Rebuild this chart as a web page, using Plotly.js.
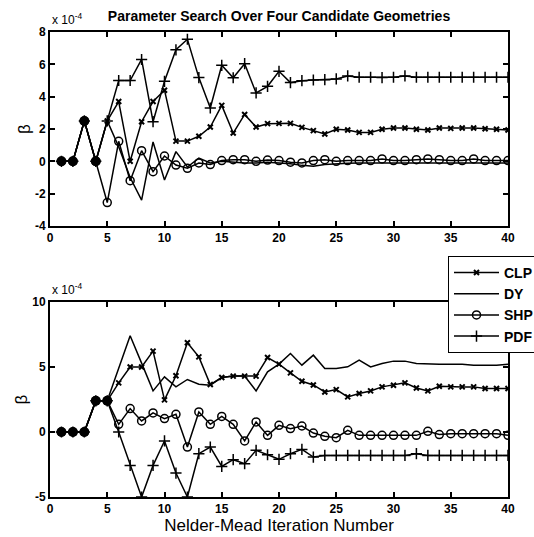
<!DOCTYPE html>
<html>
<head>
<meta charset="utf-8">
<script src="https://cdn.plot.ly/plotly-3.0.1.min.js"></script>
<style>html,body{margin:0;padding:0;background:#fff;}#chart{width:534px;height:537px;}</style>
</head>
<body>
<div id="chart"></div>
<script>
// Iterations
const iterations = Array.from({length: 40}, (_, i) => i + 1);
const seriesNames = ['CLP', 'DY', 'SHP', 'PDF'];

// Top panel values (x 1e-4)
const topCLP = [0, 0, 2.5, 0, 2.5, 3.7, 0.0, 2.45, 3.7, 4.4, 1.25, 1.25, 1.55, 2.12, 3.46, 1.75, 2.9, 2.12, 2.33, 2.35,
  2.35, 2.1, 1.9, 1.69, 1.98, 1.94, 1.79, 1.79, 1.98, 2.06, 2.06, 1.98, 1.94, 2.06, 2.04, 2.06, 2.06, 2.02, 1.98, 1.94];
const topDY = [0, 0, 2.5, 0, 2.5, 0.9, -1.0, -2.4, 1.2, -1.16, 0.6, -0.35, 0.2, -0.1, 0.0, -0.05, -0.1, -0.1, -0.05, -0.1,
  -0.15, -0.25, -0.3, -0.2, -0.15, -0.12, -0.1, -0.1, -0.08, -0.1, -0.1, -0.1, -0.1, -0.1, -0.1, -0.12, -0.1, -0.1, -0.1, -0.1];
const topSHP = [0, 0, 2.5, 0, -2.55, 1.24, -1.2, 0.66, -0.64, 0.33, -0.23, -0.43, -0.1, -0.2, 0.05, 0.1, 0.1, 0.0, 0.08, 0.05,
  -0.05, -0.1, 0.05, 0.1, 0.0, 0.05, 0.05, 0.05, 0.15, 0.05, 0.05, 0.1, 0.15, 0.1, 0.05, 0.05, 0.15, 0.05, 0.05, 0.05];
const topPDF = [0, 0, 2.5, 0, 2.5, 5.0, 5.0, 6.3, 2.45, 4.95, 6.9, 7.55, 5.18, 3.3, 5.94, 5.17, 6.04, 4.23, 4.64, 5.57,
  4.87, 4.99, 5.03, 5.05, 5.1, 5.28, 5.2, 5.2, 5.18, 5.2, 5.28, 5.2, 5.2, 5.2, 5.2, 5.2, 5.2, 5.2, 5.2, 5.2];

// Bottom panel values (x 1e-4)
const botCLP = [0, 0, 0, 2.4, 2.4, 3.78, 5.0, 5.0, 6.22, 2.47, 4.32, 6.86, 5.78, 3.65, 4.19, 4.3, 4.3, 4.3, 5.73, 5.22,
  4.55, 3.9, 3.62, 3.08, 3.26, 2.7, 2.96, 3.16, 3.47, 3.6, 3.78, 3.39, 3.16, 3.52, 3.47, 3.47, 3.47, 3.34, 3.34, 3.34];
const botDY = [0, 0, 0, 2.4, 2.4, 4.9, 7.4, 5.3, 3.16, 4.24, 3.47, 4.04, 3.68, 3.6, 4.2, 4.3, 4.3, 3.16, 4.63, 5.22,
  6.04, 5.14, 5.91, 4.88, 4.88, 5.01, 5.53, 5.01, 5.27, 5.45, 5.45, 5.27, 5.22, 5.22, 5.22, 5.22, 5.14, 5.14, 5.14, 5.22];
const botSHP = [0, 0, 0, 2.4, 2.4, 0.59, 1.8, 0.85, 1.47, 1.03, 1.36, -1.16, 1.54, 0.59, 1.2, 0.59, -0.69, 0.77, -0.26, 0.51,
  0.26, 0.46, -0.08, -0.33, -0.44, 0.13, -0.26, -0.26, -0.26, -0.26, -0.26, -0.26, 0.05, -0.2, -0.13, -0.13, -0.13, -0.13, -0.13, -0.26];
const botPDF = [0, 0, 0, 2.4, 2.4, 0, -2.57, -5, -2.57, -0.69, -3.16, -5, -1.67, -1.16, -2.65, -2.13, -2.44, -1.41, -1.75, -2.1,
  -1.67, -1.34, -1.93, -1.8, -1.8, -1.8, -1.8, -1.8, -1.8, -1.8, -1.8, -1.67, -1.8, -1.8, -1.8, -1.8, -1.8, -1.8, -1.8, -1.8];

const topTicks = [-4, -2, 0, 2, 4, 6, 8];
const botTicks = [-5, 0, 5, 10];
const xTicks = [0, 5, 10, 15, 20, 25, 30, 35, 40];

const SCALE = 1e-4;
const scaled = a => a.map(v => v * SCALE);
const FONT = 'Liberation Sans, Arial, sans-serif';

const styles = {
  CLP: {symbol: 'x-thin-open', size: 5, lw: 2},
  DY: null,
  SHP: {symbol: 'circle-open', size: 8, lw: 1.5},
  PDF: {symbol: 'cross-thin-open', size: 8, lw: 1.5}
};

function makeTraces(data, xa, ya, showLegend) {
  const out = seriesNames.map(name => {
    const st = styles[name];
    const t = {
      x: iterations, y: scaled(data[name]), xaxis: xa, yaxis: ya, name: name,
      type: 'scatter', showlegend: showLegend, legendgroup: name,
      line: {color: '#000', width: 1.5}
    };
    if (st) {
      t.mode = 'lines+markers';
      t.marker = {symbol: st.symbol, size: st.size, color: '#000', line: {color: '#000', width: st.lw}};
    } else {
      t.mode = 'lines';
    }
    return t;
  });
  // points where all four series coincide appear as solid dots
  const cx = [], cy = [];
  iterations.forEach((it, i) => {
    const v = data.CLP[i];
    if (v === data.DY[i] && v === data.SHP[i] && v === data.PDF[i]) { cx.push(it); cy.push(v * SCALE); }
  });
  out.push({x: cx, y: cy, xaxis: xa, yaxis: ya, type: 'scatter', mode: 'markers', showlegend: false,
    hoverinfo: 'skip', marker: {symbol: 'circle', size: 10, color: '#000'}});
  return out;
}

const traces = [
  ...makeTraces({CLP: topCLP, DY: topDY, SHP: topSHP, PDF: topPDF}, 'x', 'y', false),
  ...makeTraces({CLP: botCLP, DY: botDY, SHP: botSHP, PDF: botPDF}, 'x2', 'y2', true)
];

const tickFont = {family: FONT, size: 12, color: '#000', weight: 'bold'};
const axisCommon = {
  showgrid: false, zeroline: false, showline: true, linecolor: '#000', linewidth: 2,
  mirror: 'ticks', ticks: 'inside', ticklen: 5, tickwidth: 2, tickcolor: '#000', tickfont: tickFont
};
const betaTitle = {text: 'β', font: {size: 17, family: FONT, color: '#000'}, standoff: 0};

const layout = {
  width: 534, height: 537,
  margin: {l: 50, r: 26, t: 32, b: 40, autoexpand: false},
  paper_bgcolor: '#fff', plot_bgcolor: '#fff',
  font: {family: FONT, color: '#000'},
  title: {
    text: '<b>Parameter Search Over Four Candidate Geometries</b>',
    font: {size: 14, family: FONT, color: '#000'},
    x: 0.5, xref: 'paper', y: 1 - 16 / 537, yref: 'container', yanchor: 'middle'
  },
  xaxis: Object.assign({}, axisCommon, {domain: [0, 1], range: [0, 40], tickvals: xTicks, ticktext: xTicks.map(String), anchor: 'y'}),
  yaxis: Object.assign({}, axisCommon, {domain: [0.5828, 1], range: [-4 * SCALE, 8 * SCALE], tickvals: scaled(topTicks), ticktext: topTicks.map(String), anchor: 'x',
    title: betaTitle}),
  xaxis2: Object.assign({}, axisCommon, {domain: [0, 1], range: [0, 40], tickvals: xTicks, ticktext: xTicks.map(String), anchor: 'y2',
    title: {text: 'Nelder-Mead Iteration Number', font: {size: 17, family: FONT, color: '#000'}, standoff: 2}}),
  yaxis2: Object.assign({}, axisCommon, {domain: [0, 0.4194], range: [-5 * SCALE, 10 * SCALE], tickvals: scaled(botTicks), ticktext: botTicks.map(String), anchor: 'x2',
    title: betaTitle}),
  showlegend: true,
  legend: {
    x: 0.869, xanchor: 'left', y: 0.5185, yanchor: 'top', xref: 'paper', yref: 'paper',
    bgcolor: '#fff', bordercolor: '#000', borderwidth: 1,
    font: {size: 14, family: FONT, color: '#000', weight: 'bold'},
    tracegroupgap: 0, itemwidth: 45
  },
  annotations: [
    {xref: 'paper', yref: 'paper', x: 0, y: 1.0, xanchor: 'left', yanchor: 'bottom', yshift: 3, showarrow: false,
      text: 'x 10<sup>-4</sup>', font: {size: 12, family: FONT, color: '#000'}},
    {xref: 'paper', yref: 'paper', x: 0, y: 0.4194, xanchor: 'left', yanchor: 'bottom', yshift: 3, showarrow: false,
      text: 'x 10<sup>-4</sup>', font: {size: 12, family: FONT, color: '#000'}}
  ]
};

Plotly.newPlot('chart', traces, layout, {displayModeBar: false, staticPlot: true});
</script>
</body>
</html>
